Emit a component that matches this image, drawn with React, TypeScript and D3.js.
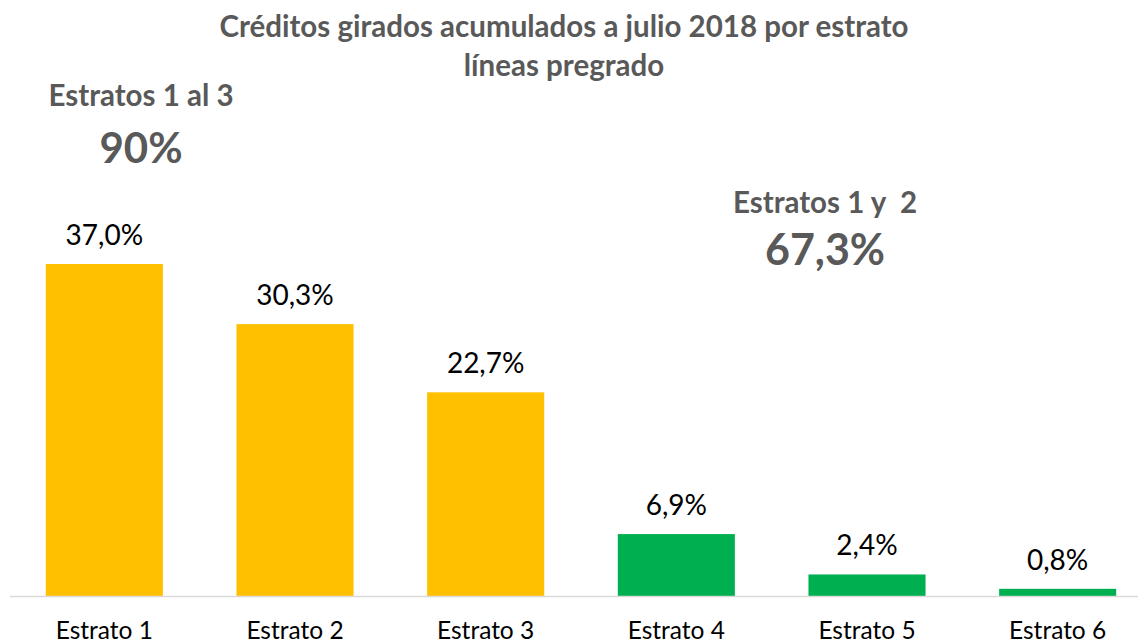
import React from 'react';
import * as d3 from 'd3';

const categories = ['Estrato 1', 'Estrato 2', 'Estrato 3', 'Estrato 4', 'Estrato 5', 'Estrato 6'];
const values = [37.0, 30.3, 22.7, 6.9, 2.4, 0.8];
const valueLabels = ['37,0%', '30,3%', '22,7%', '6,9%', '2,4%', '0,8%'];
const groups = ['low', 'low', 'low', 'high', 'high', 'high'];

const titleLines = ['Créditos girados acumulados a julio 2018 por estrato', 'líneas pregrado'];
const noteLeft = ['Estratos 1 al 3', '90%'];
const noteRight = ['Estratos 1 y  2', '67,3%'];

const width = 1138;
const height = 643;
const baseline = 596;
const font = "Lato, 'Open Sans', sans-serif";
const grey = '#595959';

const App = () => {
  // band scale wider than the picture, the last bar sits near the right edge
  const x = d3.scaleBand<string>()
    .domain(categories)
    .range([9, 1153])
    .paddingInner(0.386)
    .paddingOuter(0.193);

  const y = d3.scaleLinear()
    .domain([0, 37])
    .range([baseline, 264]);

  const color = d3.scaleOrdinal<string, string>()
    .domain(['low', 'high'])
    .range(['#FFC000', '#00B050']);

  const mid = (c: string) => (x(c) ?? 0) + x.bandwidth() / 2;

  return (
    <svg width={width} height={height}
      style={{ position: 'absolute', left: 0, top: 0, background: '#fff' }}
      fontFamily={font}>
      {/* title */}
      <text x={564} y={37} textAnchor="middle" fontSize={29.5} fontWeight="bold" fill={grey}>{titleLines[0]}</text>
      <text x={564} y={76} textAnchor="middle" fontSize={29.5} fontWeight="bold" fill={grey}>{titleLines[1]}</text>

      {/* side notes */}
      <text x={141} y={106} textAnchor="middle" fontSize={29.5} fontWeight="bold" fill={grey}>{noteLeft[0]}</text>
      <text x={141} y={163} textAnchor="middle" fontSize={42} fontWeight="bold" fill={grey}>{noteLeft[1]}</text>
      <text x={825} y={213} textAnchor="middle" fontSize={29.5} fontWeight="bold" fill={grey} style={{ whiteSpace: 'pre' }}>{noteRight[0]}</text>
      <text x={825} y={265} textAnchor="middle" fontSize={43} fontWeight="bold" fill={grey}>{noteRight[1]}</text>

      {/* bars */}
      {categories.map((c, i) => (
        <rect key={c} x={x(c)} y={y(values[i])} width={x.bandwidth()}
          height={baseline - y(values[i])} fill={color(groups[i])} />
      ))}

      {/* value labels */}
      {categories.map((c, i) => (
        <text key={'v' + c} x={mid(c)} y={y(values[i]) - 19}
          textAnchor="middle" fontSize={28} fill="#000">{valueLabels[i]}</text>
      ))}

      {/* axis */}
      <line x1={10} x2={width} y1={baseline + 0.5} y2={baseline + 0.5} stroke="#D9D9D9" strokeWidth={1.5} />
      {categories.map(c => (
        <text key={'c' + c} x={mid(c)} y={639}
          textAnchor="middle" fontSize={24.5} fill="#000">{c}</text>
      ))}
    </svg>
  );
};

export default App;
